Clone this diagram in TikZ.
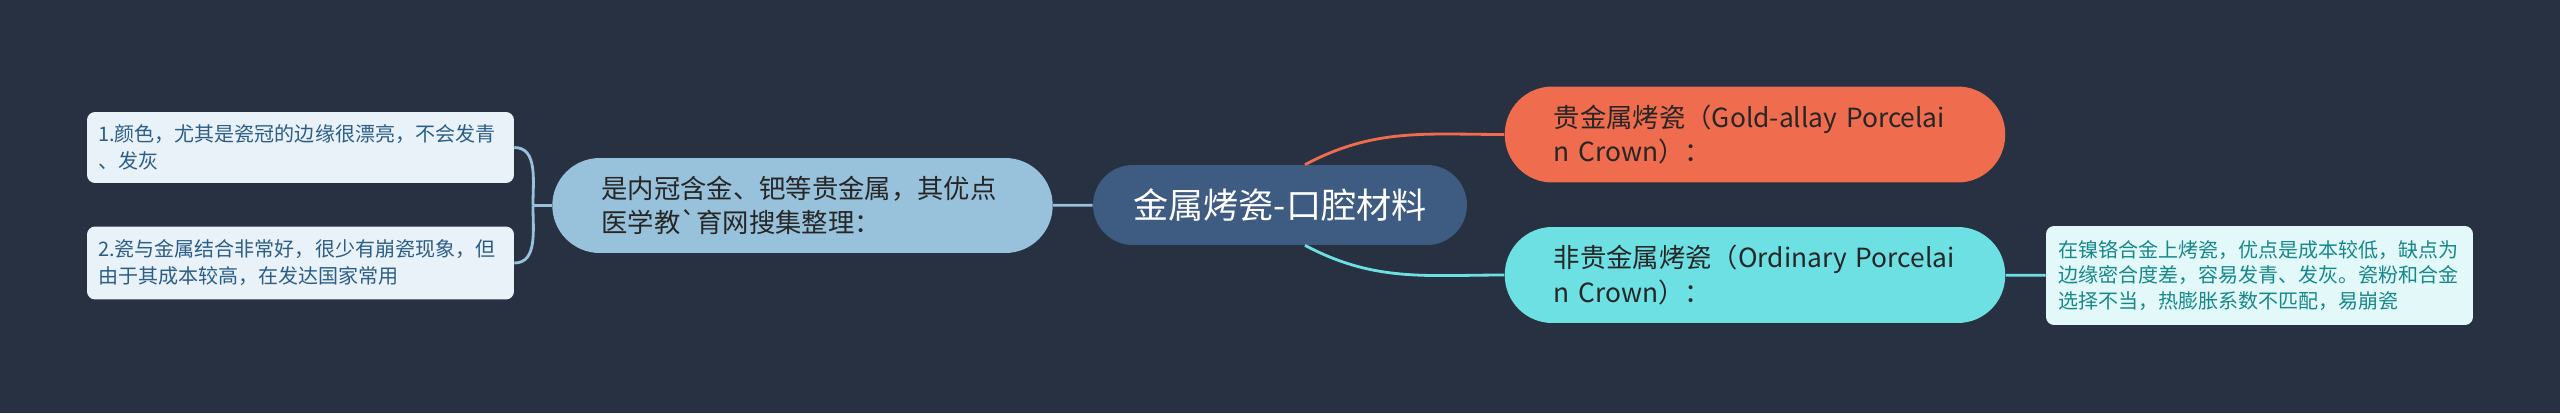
\documentclass[tikz,border=0pt]{standalone}
\usepackage{fontspec}
\setmainfont{Noto Sans CJK SC}
\usepackage{tikz}
\usetikzlibrary{positioning}
\usepackage{xcolor}
\definecolor{bgcol}{HTML}{283142}
\definecolor{rootcol}{HTML}{3E5C82}
\definecolor{midcol}{HTML}{98C1DB}
\definecolor{orangecol}{HTML}{F06C4E}
\definecolor{cyancol}{HTML}{6DE0E4}
\definecolor{leafcol}{HTML}{E9F2F9}
\definecolor{leaftext}{HTML}{2B5D86}
\definecolor{rleafcol}{HTML}{E3F8F9}
\definecolor{rleaftext}{HTML}{17888A}

\begin{document}
\begin{tikzpicture}[x=0.02cm, y=-0.02cm,
    pill/.style={rounded corners=0.95cm, minimum height=1.9cm, inner xsep=0.98cm, text width=8.05cm, align=left, text=black!85, font=\fontsize{15}{19.5}\selectfont},
    leafbox/.style={rounded corners=0.16cm, fill=leafcol, text=leaftext, inner xsep=0.22cm, text width=8.1cm, align=left, font=\fontsize{11.4}{15.4}\selectfont},
    link/.style={line width=1.6pt}]
    % Background
    \fill [bgcol] (0, 0) rectangle (2560, 413);
    % Centre
    \node (root) at (1280, 205) [rounded corners=0.8cm, fill=rootcol, text=white, minimum width=7.48cm, minimum height=1.6cm, font=\fontsize{20}{24}\selectfont] {金属烤瓷-口腔材料};
    % Left branch
    \node (mid) at (802.5, 205.5) [pill, fill=midcol] {是内冠含金、钯等贵金属，其优点\\医学教\textasciigrave 育网搜集整理：};
    \node (leafa) at (300.5, 147.5) [leafbox, minimum height=1.42cm] {1.颜色，尤其是瓷冠的边缘很漂亮，不会发青\\、发灰};
    \node (leafb) at (300.5, 263) [leafbox, minimum height=1.46cm] {2.瓷与金属结合非常好，很少有崩瓷现象，但\\由于其成本较高，在发达国家常用};
    % Right branches
    \node (gold) at (1755, 134.5) [pill, fill=orangecol, minimum height=1.92cm] {贵金属烤瓷（Gold-allay Porcelai\\n Crown）：};
    \node (ordinary) at (1755, 275) [pill, fill=cyancol, minimum height=1.92cm] {非贵金属烤瓷（Ordinary Porcelai\\n Crown）：};
    \node (rleaf) at (2259.5, 275.5) [rounded corners=0.16cm, fill=rleafcol, text=rleaftext, inner xsep=0.24cm, text width=8.06cm, minimum height=1.98cm, align=left, font=\fontsize{11.4}{14.3}\selectfont] {在镍铬合金上烤瓷，优点是成本较低，缺点为\\边缘密合度差，容易发青、发灰。瓷粉和合金\\选择不当，热膨胀系数不匹配，易崩瓷};
    % Lines
    \draw [link, midcol] (mid) -- (root);
    \draw [link, midcol] (mid.west) -- ++(-19, 0) coordinate (fork);
    \draw [link, midcol] (fork) to [out=90, in=0] (leafa.east);
    \draw [link, midcol] (fork) to [out=-90, in=0] (leafb.east);
    \draw [link, orangecol] ([xshift=0.5cm]root.north) to [out=28, in=180] (gold.west);
    \draw [link, cyancol] ([xshift=0.5cm]root.south) to [out=-28, in=180] (ordinary.west);
    \draw [link, cyancol] (ordinary) -- (rleaf);
\end{tikzpicture}
\end{document}
